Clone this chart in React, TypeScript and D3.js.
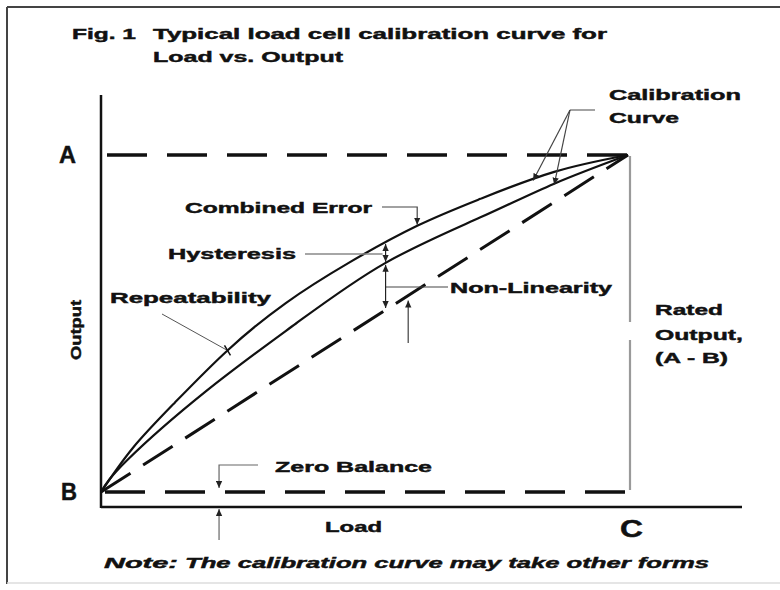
import React from 'react';
import * as d3 from 'd3';

// load in % of capacity, output in % of rated output
const upLoad = [0, 6, 14, 24, 35, 47, 60, 72, 86, 100];
const upOutput = [0, 13, 26.5, 42, 56, 68, 79, 87, 95, 100];
const downLoad = [0, 5, 20, 37, 54, 72, 86, 100];
const downOutput = [0, 9.5, 30, 50, 68, 81.5, 91.5, 100];
const lineLoad = [0, 100];
const lineOutput = [0, 100];

// where the call-outs sit along the load axis
const hysteresisLoad = 54;
const secondLinLoad = 58.3;
const combinedLoad = 60;
const zeroLoad = 22.4;
const repeatLoad = 24;
const calibUpLoad = 82;
const calibDownLoad = 86;

const W = 780;
const H = 590;
const FONT = "'Liberation Sans', Arial, sans-serif";

const x = d3.scaleLinear().domain([0, 100]).range([101, 628]);
const y = d3.scaleLinear().domain([0, 100]).range([492, 155]);

const upAt = d3.scaleLinear().domain(upLoad).range(upOutput);
const downAt = d3.scaleLinear().domain(downLoad).range(downOutput);

const curve = d3
  .line<[number, number]>()
  .x((d) => x(d[0]))
  .y((d) => y(d[1]))
  .curve(d3.curveNatural);

const zip = (a: number[], b: number[]) => a.map((v, i) => [v, b[i]] as [number, number]);

const Label = ({ x0, y0, w, size = 15, children, italic = false }: any) => (
  <text
    x={x0}
    y={y0}
    fontFamily={FONT}
    fontWeight="bold"
    fontStyle={italic ? 'italic' : 'normal'}
    fontSize={size}
    fill="#111"
    stroke="#111"
    strokeWidth={0.45}
    textLength={w}
    lengthAdjust="spacingAndGlyphs"
  >
    {children}
  </text>
);

const App: React.FC = () => {
  const axisX = 101;
  const axisY = 507;
  const hx = x(hysteresisLoad);
  const x2 = x(secondLinLoad);
  const cx = x(combinedLoad);
  const zx = x(zeroLoad);
  const rx = x(repeatLoad);
  const ry = y(upAt(repeatLoad));

  return (
    <svg
      width={W}
      height={H}
      style={{ position: 'absolute', left: 0, top: 0, background: '#fff' }}
    >
      <defs>
        <marker
          id="ah"
          viewBox="0 0 10 10"
          refX="10"
          refY="5"
          markerWidth="7"
          markerHeight="7"
          markerUnits="userSpaceOnUse"
          orient="auto-start-reverse"
        >
          <path d="M0,0.5 L10,5 L0,9.5 z" fill="#222" />
        </marker>
      </defs>
      <rect x={0} y={0} width={W} height={H} fill="#fff" />

      {/* frame */}
      <line x1={7} y1={7} x2={W} y2={7} stroke="#444" strokeWidth={2} />
      <line x1={7} y1={7} x2={7} y2={584} stroke="#444" strokeWidth={2} />
      <line x1={7} y1={583} x2={W} y2={583} stroke="#ddd" strokeWidth={1.5} />

      {/* title */}
      <Label x0={72} y0={39} w={64}>Fig. 1</Label>
      <Label x0={153} y0={39} w={454}>Typical load cell calibration curve for</Label>
      <Label x0={153} y0={62} w={190}>Load vs. Output</Label>

      {/* axes */}
      <line x1={axisX} y1={95} x2={axisX} y2={axisY + 1} stroke="#111" strokeWidth={2.5} />
      <line x1={axisX} y1={axisY} x2={742} y2={axisY} stroke="#111" strokeWidth={2.5} />

      {/* A and B reference lines */}
      <line x1={107} y1={y(100)} x2={x(100)} y2={y(100)} stroke="#111" strokeWidth={3.5} strokeDasharray="40,20" />
      <line x1={105} y1={y(0)} x2={x(100) + 2} y2={y(0)} stroke="#111" strokeWidth={3.5} strokeDasharray="40,20" />

      {/* rated output span */}
      <line x1={x(100) + 2} y1={y(100) + 1} x2={x(100) + 2} y2={322} stroke="#9a9a9a" strokeWidth={2.2} />
      <line x1={x(100) + 2} y1={340} x2={x(100) + 2} y2={y(0) - 2} stroke="#9a9a9a" strokeWidth={2.2} />

      {/* straight line B -> A */}
      <path d={curve(zip(lineLoad, lineOutput)) || ''} fill="none" stroke="#111" strokeWidth={3} strokeDasharray="35,15" />

      {/* calibration curves */}
      <path d={curve(zip(upLoad, upOutput)) || ''} fill="none" stroke="#111" strokeWidth={2.2} />
      <path d={curve(zip(downLoad, downOutput)) || ''} fill="none" stroke="#111" strokeWidth={2.2} />

      {/* Calibration Curve call-out */}
      <Label x0={609} y0={100} w={132}>Calibration</Label>
      <Label x0={609} y0={123} w={70}>Curve</Label>
      <line x1={595} y1={110} x2={570} y2={110} stroke="#666" strokeWidth={1.2} />
      <line x1={570} y1={110} x2={x(calibUpLoad)} y2={y(upAt(calibUpLoad)) + 1} stroke="#444" strokeWidth={1.2} markerEnd="url(#ah)" />
      <line x1={570} y1={110} x2={x(calibDownLoad)} y2={y(downAt(calibDownLoad)) + 1} stroke="#444" strokeWidth={1.2} markerEnd="url(#ah)" />

      {/* Combined Error */}
      <Label x0={185} y0={213} w={187}>Combined Error</Label>
      <polyline points={`382,207 ${cx},207 ${cx},${y(upAt(combinedLoad)) - 1}`} fill="none" stroke="#444" strokeWidth={1.2} markerEnd="url(#ah)" />

      {/* Hysteresis */}
      <Label x0={168} y0={259} w={128}>Hysteresis</Label>
      <line x1={305} y1={254} x2={hx - 3} y2={254} stroke="#888" strokeWidth={1.5} />
      <line x1={hx} y1={254} x2={hx} y2={y(upAt(hysteresisLoad)) + 1} stroke="#222" strokeWidth={1.2} markerEnd="url(#ah)" />
      <line x1={hx} y1={254} x2={hx} y2={y(downAt(hysteresisLoad)) - 1} stroke="#222" strokeWidth={1.2} markerEnd="url(#ah)" />

      {/* Non-Linearity */}
      <Label x0={450} y0={293} w={162}>Non-Linearity</Label>
      <line x1={hx} y1={287} x2={448} y2={287} stroke="#444" strokeWidth={1.2} />
      <line x1={hx} y1={287} x2={hx} y2={y(downAt(hysteresisLoad)) + 2} stroke="#222" strokeWidth={1.2} markerEnd="url(#ah)" />
      <line x1={hx} y1={287} x2={hx} y2={y(hysteresisLoad) - 2} stroke="#222" strokeWidth={1.2} markerEnd="url(#ah)" />
      <line x1={x2} y1={343} x2={x2} y2={y(secondLinLoad) + 5} stroke="#666" strokeWidth={1.5} markerEnd="url(#ah)" />

      {/* Repeatability */}
      <Label x0={110} y0={303} w={161}>Repeatability</Label>
      <line x1={162} y1={314} x2={rx} y2={ry} stroke="#555" strokeWidth={1} />
      <line x1={rx - 3} y1={ry - 5} x2={rx + 3} y2={ry + 5} stroke="#111" strokeWidth={1.5} />

      {/* Zero Balance */}
      <Label x0={275} y0={472} w={157}>Zero Balance</Label>
      <polyline points={`258,465 ${zx},465 ${zx},${y(0) - 4}`} fill="none" stroke="#666" strokeWidth={1.2} markerEnd="url(#ah)" />
      <line x1={zx} y1={540} x2={zx} y2={axisY + 2} stroke="#666" strokeWidth={1.2} markerEnd="url(#ah)" />

      {/* Rated Output */}
      <Label x0={655} y0={315} w={68}>Rated</Label>
      <Label x0={655} y0={340} w={88}>Output,</Label>
      <Label x0={655} y0={363} w={73}>(A - B)</Label>

      {/* axis letters */}
      <Label x0={59} y0={163} w={17} size={23}>A</Label>
      <Label x0={61} y0={500} w={16} size={23}>B</Label>
      <Label x0={620} y0={537} w={23} size={23}>C</Label>
      <Label x0={325} y0={532} w={57}>Load</Label>
      <text
        transform="translate(81,330) rotate(-90)"
        textAnchor="middle"
        fontFamily={FONT}
        fontWeight="bold"
        fontSize={15}
        fill="#111"
        stroke="#111"
        strokeWidth={0.45}
        textLength={60}
        lengthAdjust="spacingAndGlyphs"
      >
        Output
      </text>

      {/* note */}
      <Label x0={104} y0={568} w={74} italic>Note:</Label>
      <Label x0={185} y0={568} w={524} italic>The calibration curve may take other forms</Label>
    </svg>
  );
};

export default App;
